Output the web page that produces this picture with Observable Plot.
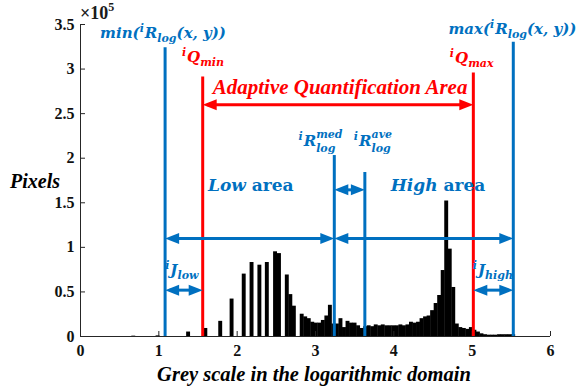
<!DOCTYPE html>
<html><head><meta charset="utf-8">
<script src="https://cdn.jsdelivr.net/npm/d3@7"></script>
<script src="https://cdn.jsdelivr.net/npm/@observablehq/plot@0.6"></script>
<style>body{margin:0;background:#fff;} svg{display:block}</style>
</head><body><div id="chart"></div>
<script>
// Histogram bins (log grey level) and pixel counts (×10^5)
const binCenters = [0.68, 0.99, 1.38, 1.60, 1.79, 1.935, 2.09, 2.19, 2.29, 2.385, 2.49, 2.54, 2.64, 2.685, 2.73,
  2.83, 2.875, 2.92, 2.965, 3.01, 3.055, 3.10, 3.145, 3.19, 3.235, 3.28, 3.325, 3.37, 3.415, 3.46, 3.505,
  3.55, 3.595, 3.64, 3.685, 3.73, 3.775, 3.82, 3.865, 3.91, 3.955, 4.00, 4.045, 4.09, 4.135, 4.18, 4.225,
  4.27, 4.315, 4.36, 4.405, 4.45, 4.495, 4.54, 4.585, 4.63, 4.675, 4.72, 4.765, 4.81, 4.855, 4.90, 4.945,
  4.99, 5.035, 5.08, 5.125, 5.17, 5.215, 5.26, 5.305, 5.35, 5.395, 5.44, 5.485, 5.53];
const pixelCounts = [0.004, 0.007, 0.05, 0.09, 0.17, 0.42, 0.70, 0.83, 0.80, 0.83, 0.95, 0.93, 0.69, 0.47, 0.34,
  0.25, 0.22, 0.20, 0.16, 0.15, 0.15, 0.18, 0.23, 0.35, 0.14, 0.14, 0.20, 0.10, 0.17, 0.15, 0.15,
  0.12, 0.09, 0.11, 0.12, 0.11, 0.13, 0.12, 0.13, 0.12, 0.12, 0.12, 0.12, 0.13, 0.12, 0.13, 0.16,
  0.15, 0.16, 0.20, 0.22, 0.23, 0.29, 0.37, 0.46, 0.74, 1.52, 0.98, 0.55, 0.14, 0.10, 0.09, 0.08,
  0.10, 0.07, 0.05, 0.03, 0.02, 0.015, 0.015, 0.015, 0.02, 0.02, 0.02, 0.02, 0.02];
const binWidth = 0.05;

// Axis ticks
const xTicks = [0, 1, 2, 3, 4, 5, 6];
const yTicks = [0, 0.5, 1, 1.5, 2, 2.5, 3, 3.5];
const yTickLabels = ["0", "0.5", "1", "1.5", "2", "2.5", "3", "3.5"];

// Marker lines
const markerNames = ["min", "Qmin", "med", "ave", "Qmax", "max"];
const markerX = [1.08, 1.56, 3.24, 3.63, 5.015, 5.525];
const markerTop = [3.24, 2.91, 2.03, 1.84, 2.955, 3.30];

// Double arrows between markers
const arrowFrom = ["Qmin", "min", "med", "med", "min", "Qmax"];
const arrowTo = ["Qmax", "med", "max", "ave", "Qmin", "max"];
const arrowY = [2.60, 1.10, 1.10, 1.645, 0.52, 0.52];

const BLUE = "#0070C0", RED = "#FF0000";
const colorOf = n => (n === "Qmin" || n === "Qmax") ? RED : BLUE;
const posOf = n => markerX[markerNames.indexOf(n)];

const bars = binCenters.map((c, i) => ({c, n: pixelCounts[i]}));
const markers = markerNames.map((n, i) => ({x: markerX[i], top: markerTop[i], color: colorOf(n)}));
const arrows = arrowFrom.map((f, i) => ({x1: posOf(f), x2: posOf(arrowTo[i]), y: arrowY[i], color: f === "Qmin" ? RED : BLUE}));
const heads = arrows.flatMap(a => [{x: a.x1, y: a.y, rot: 180, color: a.color}, {x: a.x2, y: a.y, rot: 0, color: a.color}]);

const headSymbol = {draw(ctx) { ctx.moveTo(0, 0); ctx.lineTo(-14, -5.5); ctx.lineTo(-14, 5.5); ctx.closePath(); }};

const chart = Plot.plot({
  width: 585, height: 388,
  marginLeft: 80, marginRight: 35, marginTop: 24, marginBottom: 52,
  x: {domain: [0, 6]},
  y: {domain: [0, 3.5]},
  style: {fontFamily: "'Liberation Serif', serif", fontSize: "16px", fontWeight: "bold", color: "#1a1a1a", background: "white", overflow: "visible"},
  marks: [
    Plot.rectY(bars, {x1: d => d.c - binWidth / 2, x2: d => d.c + binWidth / 2, y: "n", fill: "black"}),
    Plot.ruleX([0], {stroke: "#262626"}),
    Plot.ruleY([0], {stroke: "#262626"}),
    Plot.axisY(yTicks, {tickSize: -5, tickPadding: 11, tickFormat: (d, i) => yTickLabels[i], label: null, stroke: "#262626", fontWeight: "bold", fill: "#111"}),
    Plot.axisX(xTicks, {tickSize: -5, tickPadding: 13, label: null, stroke: "#262626", fontWeight: "bold", fill: "#111"}),
    Plot.ruleX(markers, {x: "x", y1: 0, y2: "top", stroke: "color", strokeWidth: 3}),
    Plot.ruleY(arrows, {x1: "x1", x2: "x2", y: "y", stroke: "color", strokeWidth: 3, insetLeft: 5, insetRight: 5}),
    Plot.dot(heads, {x: "x", y: "y", symbol: headSymbol, rotate: "rot", fill: "color", stroke: null, r: 5})
  ]
});
document.getElementById("chart").append(chart);

const svg = d3.select(chart);
const sx = chart.scale("x"), sy = chart.scale("y");

function rich(parts, xd, yd, {fill, family, size, small, anchor = "middle"}) {
  const g = svg.append("g").attr("fill", fill).attr("font-family", family).attr("font-weight", "bold");
  let cx = 0;
  const add = (t, x, y, fs, it) => g.append("text").attr("x", x).attr("y", y).attr("font-size", fs)
      .attr("font-style", it ? "italic" : "normal").attr("text-anchor", "start").text(t);
  for (const p of parts) {
    if (p.stack) {
      const a = add(p.stack[0], cx, -size * 0.55, small, true);
      const b = add(p.stack[1], cx, size * 0.38, small, true);
      cx += Math.max(a.node().getComputedTextLength(), b.node().getComputedTextLength());
    } else {
      const fs = p.k ? small : size;
      const dy = p.k === "sub" ? size * 0.28 : p.k === "sup" ? -size * 0.42 : 0;
      const t = add(p.t, cx, dy, fs, p.it !== false);
      cx += t.node().getComputedTextLength() + (p.gap || 0);
    }
  }
  const X = sx.apply(xd), Y = sy.apply(yd);
  const off = anchor === "middle" ? -cx / 2 : anchor === "end" ? -cx : 0;
  g.attr("transform", `translate(${X + off},${Y})`);
}

const math = {family: "'DejaVu Serif', serif", size: 15, small: 11};
rich([{t: "min("}, {t: "i", k: "sup", gap: 1}, {t: "R"}, {t: "log", k: "sub"}, {t: "(x, y))"}], 1.06, 3.34, {...math, fill: BLUE});
rich([{t: "max("}, {t: "i", k: "sup", gap: 1}, {t: "R"}, {t: "log", k: "sub"}, {t: "(x, y))"}], 5.52, 3.39, {...math, fill: BLUE});
rich([{t: "i", k: "sup", gap: 1}, {t: "Q"}, {t: "min", k: "sub"}], 1.57, 3.075, {...math, fill: RED});
rich([{t: "i", k: "sup", gap: 1}, {t: "Q"}, {t: "max", k: "sub"}], 5.0, 3.06, {...math, fill: RED});
rich([{t: "i", k: "sup", gap: 1}, {t: "R"}, {stack: ["med", "log"]}], 3.07, 2.13, {...math, fill: BLUE});
rich([{t: "i", k: "sup", gap: 1}, {t: "R"}, {stack: ["ave", "log"]}], 3.74, 2.13, {...math, fill: BLUE});
rich([{t: "i", k: "sup", gap: 1}, {t: "J"}, {t: "low", k: "sub"}], 1.30, 0.685, {...math, fill: BLUE});
rich([{t: "i", k: "sup", gap: 1}, {t: "J"}, {t: "high", k: "sub"}], 5.27, 0.685, {...math, fill: BLUE});
rich([{t: "Low "}, {t: "area", it: false}], 2.18, 1.627, {family: "'DejaVu Serif', serif", size: 17, small: 12, fill: BLUE});
rich([{t: "High "}, {t: "area", it: false}], 4.57, 1.627, {family: "'DejaVu Serif', serif", size: 17, small: 12, fill: BLUE});
rich([{t: "Adaptive Quantification Area"}], 3.32, 2.716, {family: "'Liberation Serif', serif", size: 21, small: 12, fill: RED});

// Axis titles and exponent
svg.append("text").attr("x", 10).attr("y", 188).attr("font-size", 20).attr("font-style", "italic")
  .attr("font-weight", "bold").attr("fill", "black").attr("text-anchor", "start").text("Pixels");
svg.append("text").attr("x", 314).attr("y", 381).attr("font-size", 20.5).attr("font-style", "italic")
  .attr("font-weight", "bold").attr("fill", "black").attr("text-anchor", "middle").text("Grey scale in the logarithmic domain");
const ex = svg.append("text").attr("x", 80).attr("y", 19).attr("font-size", 18).attr("font-weight", "bold")
  .attr("fill", "#1a1a1a").attr("text-anchor", "start");
ex.append("tspan").text("×10");
ex.append("tspan").attr("font-size", 12).attr("dy", -8).text("5");
</script>
</body></html>
